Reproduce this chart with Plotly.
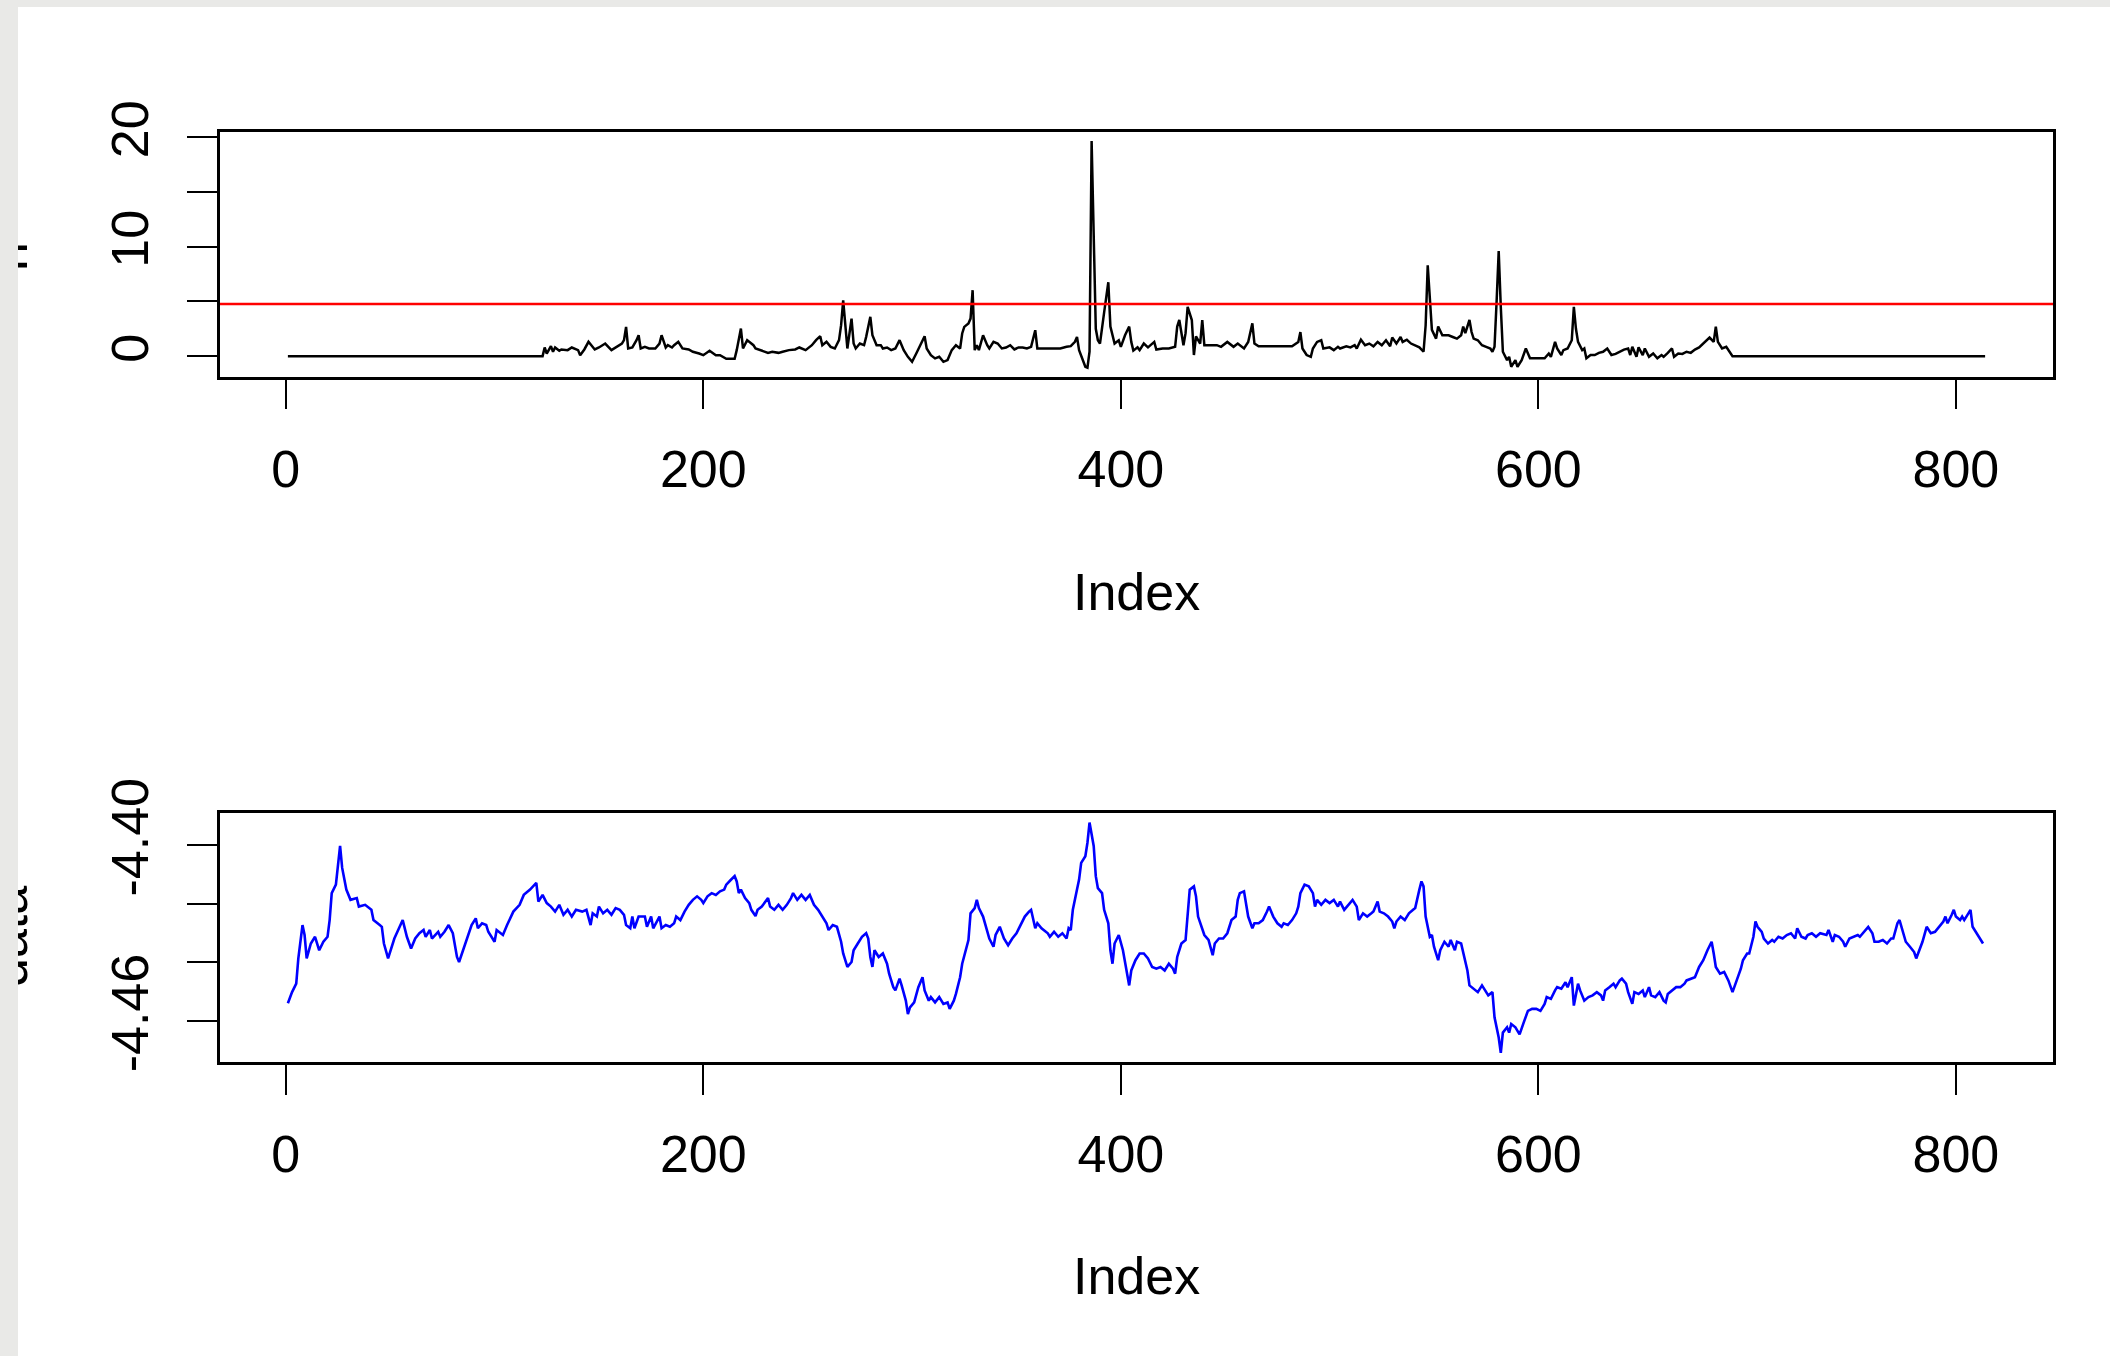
import plotly.graph_objects as go

# ---------------- data ----------------
top_index = [1, 123, 124, 125, 127, 128, 129, 131, 132, 135, 137, 140, 141, 143, 145, 148, 150, 153, 156, 158,
             161, 162, 163, 164, 166, 168, 169, 170, 172, 174, 177, 179, 180, 182, 183, 185, 186, 188, 190, 193,
             195, 198, 200, 203, 206, 208, 211, 215, 216, 218, 219, 221, 224, 225, 228, 231, 233, 236, 238, 241,
             244, 246, 249, 252, 254, 256, 257, 259, 261, 263, 265, 266, 267, 268, 269, 271, 272, 273, 275, 277,
             278, 280, 281, 283, 285, 286, 288, 290, 292, 294, 296, 298, 300, 302, 304, 306, 307, 309, 311, 313,
             315, 317, 319, 320, 321, 323, 324, 325, 327, 328, 329, 330, 331, 332, 334, 336, 337, 339, 341, 343,
             345, 347, 349, 351, 353, 355, 357, 359, 360, 362, 366, 371, 374, 376, 378, 379, 380, 382, 383, 384,
             385, 386, 387, 388, 389, 390, 392, 393, 394, 395, 397, 399, 400, 402, 404, 405, 406, 408, 409, 411,
             413, 416, 417, 420, 423, 426, 427, 428, 430, 431, 432, 434, 435, 436, 438, 439, 440, 443, 446, 448,
             451, 454, 456, 459, 461, 463, 464, 466, 469, 471, 474, 477, 479, 482, 485, 486, 487, 489, 491, 492,
             494, 496, 497, 500, 502, 504, 505, 508, 510, 512, 513, 515, 517, 519, 521, 523, 525, 527, 529, 530,
             532, 534, 535, 537, 539, 541, 543, 545, 546, 547, 548, 549, 551, 552, 554, 555, 557, 559, 561, 563,
             564, 565, 567, 568, 569, 571, 573, 575, 577, 578, 579, 580, 581, 582, 583, 585, 586, 587, 589, 590,
             592, 594, 596, 598, 600, 603, 605, 606, 608, 609, 611, 612, 614, 616, 617, 618, 619, 621, 622, 623,
             625, 627, 629, 631, 633, 635, 637, 639, 641, 643, 644, 645, 647, 648, 650, 651, 653, 655, 657, 659,
             660, 662, 664, 665, 667, 669, 671, 673, 675, 677, 679, 681, 682, 684, 685, 686, 688, 690, 691, 693,
             814]
top_value = [0, 0, 0.79, 0.24, 0.91, 0.40, 0.79, 0.49, 0.61, 0.55, 0.79, 0.55, 0.09, 0.61, 1.31, 0.61, 0.79, 1.15, 0.55, 0.79,
             1.15, 1.46, 2.67, 0.70, 0.79, 1.46, 1.91, 0.70, 0.85, 0.70, 0.70, 1.15, 1.91, 0.79, 1.00, 0.79, 1.00, 1.31, 0.70, 0.61,
             0.40, 0.24, 0.09, 0.49, 0.09, 0.09, -0.24, -0.24, 0.55, 2.52, 0.70, 1.46, 1.00, 0.70, 0.49, 0.30, 0.40, 0.30, 0.40, 0.55,
             0.61, 0.79, 0.55, 1.00, 1.46, 1.82, 1.00, 1.31, 0.85, 0.70, 1.46, 2.83, 5.10, 2.67, 0.70, 3.43, 1.15, 0.70, 1.15, 1.00,
             1.76, 3.59, 1.91, 1.00, 1.00, 0.70, 0.79, 0.55, 0.70, 1.46, 0.55, -0.06, -0.52, 0.24, 1.00, 1.82, 0.70, 0.09, -0.21, -0.06,
             -0.52, -0.36, 0.55, 0.79, 1.00, 0.70, 2.07, 2.67, 2.98, 3.43, 6.02, 0.55, 1.00, 0.55, 1.91, 1.00, 0.70, 1.31, 1.15, 0.70,
             0.79, 1.00, 0.61, 0.79, 0.79, 0.70, 0.85, 2.37, 0.70, 0.70, 0.70, 0.70, 0.85, 0.91, 1.31, 1.76, 0.55, -0.52, -0.97, -1.05,
             0.40, 19.64, 9.30, 2.50, 1.45, 1.15, 4.00, 5.50, 6.75, 2.70, 1.15, 1.45, 0.85, 1.90, 2.70, 1.30, 0.50, 0.80, 0.55, 1.15,
             0.80, 1.30, 0.60, 0.70, 0.70, 0.85, 2.70, 3.30, 1.00, 2.10, 4.50, 3.30, 0.10, 1.80, 1.15, 3.30, 1.00, 1.00, 1.00, 0.85,
             1.30, 0.85, 1.15, 0.70, 1.30, 3.00, 1.15, 0.90, 0.90, 0.90, 0.90, 0.90, 0.90, 0.90, 1.30, 2.20, 0.70, 0.10, -0.06, 0.70,
             1.30, 1.45, 0.70, 0.80, 0.55, 0.85, 0.70, 0.90, 0.80, 1.00, 0.70, 1.50, 1.00, 1.15, 0.90, 1.30, 1.00, 1.45, 0.90, 1.70,
             1.15, 1.75, 1.30, 1.50, 1.15, 1.00, 0.80, 0.40, 2.80, 8.30, 5.70, 2.40, 1.60, 2.70, 1.90, 1.90, 1.90, 1.75, 1.60, 1.90,
             2.70, 2.10, 3.30, 2.20, 1.60, 1.45, 1.00, 0.85, 0.70, 0.40, 0.85, 5.00, 9.60, 4.50, 0.40, -0.36, -0.06, -0.97, -0.36, -0.97,
             -0.36, 0.70, -0.20, -0.20, -0.20, -0.20, 0.24, -0.06, 1.30, 0.70, 0.10, 0.55, 0.70, 1.45, 4.50, 2.50, 1.30, 0.55, 0.70, -0.20,
             0.10, 0.10, 0.30, 0.40, 0.70, 0.10, 0.20, 0.40, 0.60, 0.70, 0.10, 0.85, -0.06, 0.80, 0.10, 0.70, -0.06, 0.24, -0.20, 0.10,
             -0.06, 0.30, 0.70, -0.06, 0.24, 0.20, 0.40, 0.30, 0.60, 0.80, 1.15, 1.45, 1.70, 1.30, 2.70, 1.30, 0.70, 0.85, 0.55, 0,
             0]

bottom_index = [1, 3, 5, 6, 8, 9, 10, 12, 14, 16, 18, 20, 21, 22, 24, 26, 27, 29, 31, 34,
                35, 38, 41, 42, 45, 46, 47, 49, 52, 55, 56, 58, 60, 62, 64, 66, 67, 69, 70, 73,
                74, 76, 78, 80, 82, 83, 85, 87, 89, 91, 92, 94, 96, 97, 100, 101, 104, 106, 109, 112,
                114, 117, 120, 121, 123, 125, 127, 129, 131, 133, 135, 137, 139, 142, 144, 146, 147, 149, 150, 152,
                154, 156, 158, 160, 162, 163, 165, 166, 167, 169, 172, 173, 175, 176, 179, 180, 182, 184, 186, 187,
                189, 191, 193, 195, 197, 199, 200, 202, 204, 206, 208, 210, 211, 213, 215, 216, 217, 218, 220, 222,
                223, 225, 226, 228, 230, 231, 232, 234, 236, 238, 240, 242, 243, 245, 247, 249, 251, 253, 255, 257,
                259, 260, 262, 264, 266, 267, 269, 271, 272, 274, 276, 278, 279, 280, 281, 282, 284, 286, 288, 289,
                291, 292, 294, 295, 297, 298, 299, 301, 303, 305, 306, 308, 309, 311, 313, 315, 317, 318, 320, 321,
                323, 324, 326, 327, 328, 330, 331, 332, 334, 336, 337, 339, 340, 342, 344, 346, 348, 350, 352, 354,
                356, 357, 359, 360, 362, 365, 366, 368, 370, 372, 374, 375, 376, 377, 379, 380, 381, 383, 384, 385,
                387, 388, 389, 391, 392, 394, 395, 396, 397, 399, 401, 403, 404, 405, 407, 409, 411, 413, 415, 417,
                419, 421, 423, 425, 426, 427, 429, 431, 432, 433, 435, 436, 437, 439, 440, 442, 444, 445, 447, 449,
                451, 453, 455, 456, 457, 459, 460, 461, 463, 464, 466, 468, 470, 471, 473, 475, 477, 478, 480, 482,
                484, 485, 486, 488, 490, 492, 493, 494, 496, 498, 500, 502, 504, 505, 507, 509, 511, 513, 514, 516,
                518, 520, 521, 523, 524, 526, 528, 530, 531, 532, 534, 536, 538, 540, 541, 543, 544, 545, 546, 548,
                549, 550, 552, 553, 555, 557, 558, 560, 561, 563, 565, 566, 567, 569, 571, 573, 575, 576, 578, 579,
                581, 582, 583, 585, 586, 587, 589, 591, 593, 595, 597, 599, 601, 603, 604, 606, 608, 609, 611, 613,
                614, 616, 617, 619, 620, 622, 624, 626, 628, 630, 631, 632, 634, 636, 637, 639, 640, 642, 643, 645,
                646, 648, 650, 651, 653, 654, 656, 658, 660, 661, 662, 664, 666, 668, 670, 671, 673, 675, 677, 679,
                681, 683, 684, 685, 687, 689, 691, 693, 695, 697, 698, 700, 701, 703, 704, 705, 707, 708, 710, 712,
                713, 715, 717, 719, 721, 723, 724, 726, 728, 729, 731, 733, 735, 738, 739, 741, 742, 744, 746, 747,
                749, 751, 753, 754, 756, 758, 760, 761, 763, 765, 767, 769, 770, 772, 773, 775, 776, 778, 780, 781,
                783, 784, 786, 787, 788, 790, 792, 794, 795, 796, 798, 799, 800, 802, 803, 804, 806, 807, 808, 810,
                812, 813]
bottom_value = [-4.4540, -4.4502, -4.4473, -4.4387, -4.4273, -4.4307, -4.4387, -4.4336, -4.4313, -4.4359, -4.4330, -4.4313, -4.4256, -4.4164, -4.4135, -4.4003, -4.4078, -4.4152, -4.4187, -4.4181,
                -4.4210, -4.4204, -4.4221, -4.4256, -4.4273, -4.4279, -4.4336, -4.4387, -4.4319, -4.4273, -4.4256, -4.4313, -4.4353, -4.4319, -4.4301, -4.4290, -4.4313, -4.4290, -4.4319, -4.4296,
                -4.4313, -4.4296, -4.4273, -4.4301, -4.4382, -4.4399, -4.4359, -4.4319, -4.4273, -4.4250, -4.4284, -4.4267, -4.4273, -4.4296, -4.4330, -4.4290, -4.4307, -4.4273, -4.4227, -4.4204,
                -4.4170, -4.4152, -4.4129, -4.4193, -4.4170, -4.4198, -4.4210, -4.4227, -4.4204, -4.4238, -4.4221, -4.4244, -4.4221, -4.4227, -4.4221, -4.4273, -4.4233, -4.4244, -4.4210, -4.4233,
                -4.4221, -4.4238, -4.4215, -4.4221, -4.4238, -4.4273, -4.4284, -4.4244, -4.4284, -4.4244, -4.4244, -4.4279, -4.4244, -4.4284, -4.4244, -4.4284, -4.4273, -4.4279, -4.4267, -4.4244,
                -4.4256, -4.4227, -4.4204, -4.4187, -4.4175, -4.4187, -4.4198, -4.4175, -4.4164, -4.4170, -4.4158, -4.4152, -4.4135, -4.4120, -4.4106, -4.4124, -4.4164, -4.4152, -4.4181, -4.4198,
                -4.4221, -4.4242, -4.4221, -4.4210, -4.4193, -4.4181, -4.4210, -4.4221, -4.4204, -4.4221, -4.4204, -4.4181, -4.4164, -4.4187, -4.4170, -4.4187, -4.4170, -4.4204, -4.4221, -4.4244,
                -4.4267, -4.4290, -4.4273, -4.4279, -4.4330, -4.4370, -4.4416, -4.4399, -4.4359, -4.4336, -4.4313, -4.4301, -4.4319, -4.4382, -4.4416, -4.4359, -4.4382, -4.4370, -4.4405, -4.4439,
                -4.4485, -4.4496, -4.4456, -4.4479, -4.4531, -4.4577, -4.4554, -4.4537, -4.4485, -4.4451, -4.4496, -4.4531, -4.4519, -4.4537, -4.4519, -4.4542, -4.4537, -4.4559, -4.4531, -4.4508,
                -4.4451, -4.4405, -4.4347, -4.4324, -4.4233, -4.4215, -4.4187, -4.4215, -4.4244, -4.4301, -4.4319, -4.4347, -4.4307, -4.4279, -4.4319, -4.4342, -4.4319, -4.4301, -4.4273, -4.4244,
                -4.4227, -4.4221, -4.4284, -4.4267, -4.4284, -4.4301, -4.4313, -4.4296, -4.4313, -4.4301, -4.4319, -4.4284, -4.4290, -4.4221, -4.4152, -4.4118, -4.4061, -4.4038, -4.3992, -4.3923,
                -4.4003, -4.4106, -4.4147, -4.4164, -4.4221, -4.4267, -4.4359, -4.4405, -4.4336, -4.4307, -4.4359, -4.4439, -4.4479, -4.4428, -4.4393, -4.4370, -4.4370, -4.4387, -4.4416, -4.4422,
                -4.4416, -4.4428, -4.4405, -4.4422, -4.4439, -4.4382, -4.4336, -4.4324, -4.4244, -4.4152, -4.4141, -4.4175, -4.4244, -4.4284, -4.4307, -4.4324, -4.4376, -4.4336, -4.4319, -4.4319,
                -4.4301, -4.4256, -4.4244, -4.4187, -4.4164, -4.4158, -4.4210, -4.4244, -4.4284, -4.4267, -4.4267, -4.4256, -4.4227, -4.4210, -4.4244, -4.4267, -4.4279, -4.4267, -4.4273, -4.4256,
                -4.4233, -4.4210, -4.4164, -4.4135, -4.4141, -4.4164, -4.4210, -4.4187, -4.4204, -4.4187, -4.4198, -4.4187, -4.4210, -4.4193, -4.4221, -4.4204, -4.4187, -4.4210, -4.4256, -4.4233,
                -4.4244, -4.4233, -4.4227, -4.4193, -4.4227, -4.4233, -4.4244, -4.4261, -4.4284, -4.4261, -4.4244, -4.4256, -4.4233, -4.4221, -4.4215, -4.4152, -4.4124, -4.4141, -4.4244, -4.4313,
                -4.4307, -4.4347, -4.4393, -4.4359, -4.4330, -4.4347, -4.4324, -4.4359, -4.4330, -4.4336, -4.4393, -4.4428, -4.4479, -4.4490, -4.4502, -4.4479, -4.4502, -4.4513, -4.4502, -4.4588,
                -4.4657, -4.4709, -4.4640, -4.4622, -4.4640, -4.4611, -4.4622, -4.4646, -4.4605, -4.4566, -4.4559, -4.4559, -4.4566, -4.4542, -4.4519, -4.4525, -4.4496, -4.4485, -4.4490, -4.4468,
                -4.4485, -4.4451, -4.4548, -4.4473, -4.4496, -4.4531, -4.4519, -4.4513, -4.4502, -4.4513, -4.4531, -4.4496, -4.4485, -4.4473, -4.4485, -4.4462, -4.4456, -4.4473, -4.4502, -4.4542,
                -4.4502, -4.4508, -4.4496, -4.4519, -4.4485, -4.4513, -4.4519, -4.4502, -4.4531, -4.4537, -4.4508, -4.4496, -4.4485, -4.4485, -4.4473, -4.4462, -4.4456, -4.4451, -4.4416, -4.4393,
                -4.4359, -4.4330, -4.4370, -4.4416, -4.4439, -4.4433, -4.4462, -4.4502, -4.4462, -4.4422, -4.4393, -4.4370, -4.4370, -4.4313, -4.4261, -4.4279, -4.4296, -4.4319, -4.4336, -4.4324,
                -4.4330, -4.4313, -4.4319, -4.4307, -4.4301, -4.4319, -4.4284, -4.4313, -4.4319, -4.4307, -4.4301, -4.4313, -4.4301, -4.4307, -4.4290, -4.4330, -4.4307, -4.4313, -4.4330, -4.4347,
                -4.4319, -4.4313, -4.4307, -4.4313, -4.4296, -4.4279, -4.4301, -4.4330, -4.4330, -4.4324, -4.4336, -4.4319, -4.4319, -4.4267, -4.4256, -4.4301, -4.4330, -4.4347, -4.4365, -4.4387,
                -4.4347, -4.4330, -4.4279, -4.4290, -4.4301, -4.4296, -4.4279, -4.4261, -4.4244, -4.4267, -4.4238, -4.4221, -4.4244, -4.4256, -4.4244, -4.4256, -4.4233, -4.4221, -4.4279, -4.4301,
                -4.4324, -4.4336]

threshold = 4.75
n_points = 814
x_ticks = [0, 200, 400, 600, 800]
top_y_ticks = [0, 5, 10, 15, 20]
top_y_labels = ["0", "", "10", "", "20"]
bottom_y_ticks = [-4.46, -4.44, -4.42, -4.40]
bottom_y_labels = ["-4.46", "", "", "-4.40"]
x_title = "Index"
top_y_title = "n"
bottom_y_title = "data"

# ---------------- figure ----------------
FONT = "Liberation Sans, Arial, sans-serif"
FS = 52
W, H = 2110, 1356
ML, MR, MT, MB = 220, 57, 132, 294
PW, PH = W - ML - MR, H - MT - MB


def r_range(lo, hi):
    pad = 0.04 * (hi - lo)
    return [lo - pad, hi + pad]


def px_x(p):
    return (p - ML) / PW


def px_y(p):
    return (H - MB - p) / PH


fig = go.Figure()
fig.add_trace(go.Scatter(x=top_index, y=top_value, mode="lines",
                         line=dict(color="#000000", width=2.5), xaxis="x", yaxis="y",
                         showlegend=False))
fig.add_trace(go.Scatter(x=bottom_index, y=bottom_value, mode="lines",
                         line=dict(color="#0000ff", width=2.6), xaxis="x2", yaxis="y2",
                         showlegend=False))

axis_common = dict(showline=True, linecolor="black", linewidth=2.5, mirror=True,
                   ticks="outside", ticklen=30, tickwidth=2, tickcolor="black",
                   showgrid=False, zeroline=False,
                   tickfont=dict(family=FONT, size=FS, color="black"))

xr = r_range(1, n_points)
fig.update_layout(
    width=W, height=H,
    margin=dict(l=ML, r=MR, t=MT, b=MB),
    paper_bgcolor="white", plot_bgcolor="white",
    xaxis=dict(domain=[0, 1], anchor="y", range=xr, tickmode="array", tickvals=x_ticks,
               ticktext=[str(v) for v in x_ticks], ticklabelstandoff=15, **axis_common),
    yaxis=dict(domain=[px_y(376.7), 1.0], anchor="x", range=r_range(min(top_value), max(top_value)),
               tickmode="array", tickvals=top_y_ticks, ticktext=top_y_labels, tickangle=-90,
               ticklabelstandoff=18, **axis_common),
    xaxis2=dict(domain=[0, 1], anchor="y2", range=xr, tickmode="array", tickvals=x_ticks,
                ticktext=[str(v) for v in x_ticks], ticklabelstandoff=15, **axis_common),
    yaxis2=dict(domain=[0, px_y(813.3)], anchor="x2", range=r_range(min(bottom_value), max(bottom_value)),
                tickmode="array", tickvals=bottom_y_ticks, ticktext=bottom_y_labels, tickangle=-90,
                ticklabelstandoff=18, **axis_common),
)

fig.add_shape(type="line", xref="x domain", yref="y", x0=0, x1=1, y0=threshold, y1=threshold,
              line=dict(color="#ff0000", width=2.5), layer="above")
# screenshot frame (top strip)
fig.add_shape(type="rect", xref="paper", yref="paper", x0=px_x(0), x1=px_x(W), y0=px_y(7), y1=px_y(0),
              fillcolor="#e9e9e7", line=dict(width=0), layer="above")

annotations = [
    dict(text=x_title, x=0.5, y=px_y(592), xref="paper", yref="paper", showarrow=False,
         xanchor="center", yanchor="middle", font=dict(family=FONT, size=FS, color="black")),
    dict(text=x_title, x=0.5, y=px_y(1276), xref="paper", yref="paper", showarrow=False,
         xanchor="center", yanchor="middle", font=dict(family=FONT, size=FS, color="black")),
    dict(text=top_y_title, x=px_x(40), y=px_y(257), xref="paper", yref="paper", showarrow=False,
         xanchor="right", yanchor="middle", textangle=-90, font=dict(family=FONT, size=FS, color="black")),
    dict(text=bottom_y_title, x=px_x(40), y=px_y(937), xref="paper", yref="paper", showarrow=False,
         xanchor="right", yanchor="middle", textangle=-90, font=dict(family=FONT, size=FS, color="black")),
    # screenshot frame (left strip) drawn over the clipped axis titles
    dict(text=" ", x=px_x(0), y=px_y(0), xref="paper", yref="paper", showarrow=False,
         xanchor="left", yanchor="top", width=18, height=H, borderpad=0, borderwidth=0,
         bgcolor="#e9e9e7"),
]
fig.update_layout(annotations=annotations)

fig.write_html("out.html", config={"displayModeBar": False},
               post_script="document.body.style.margin='0px';document.body.style.overflow='hidden';")
